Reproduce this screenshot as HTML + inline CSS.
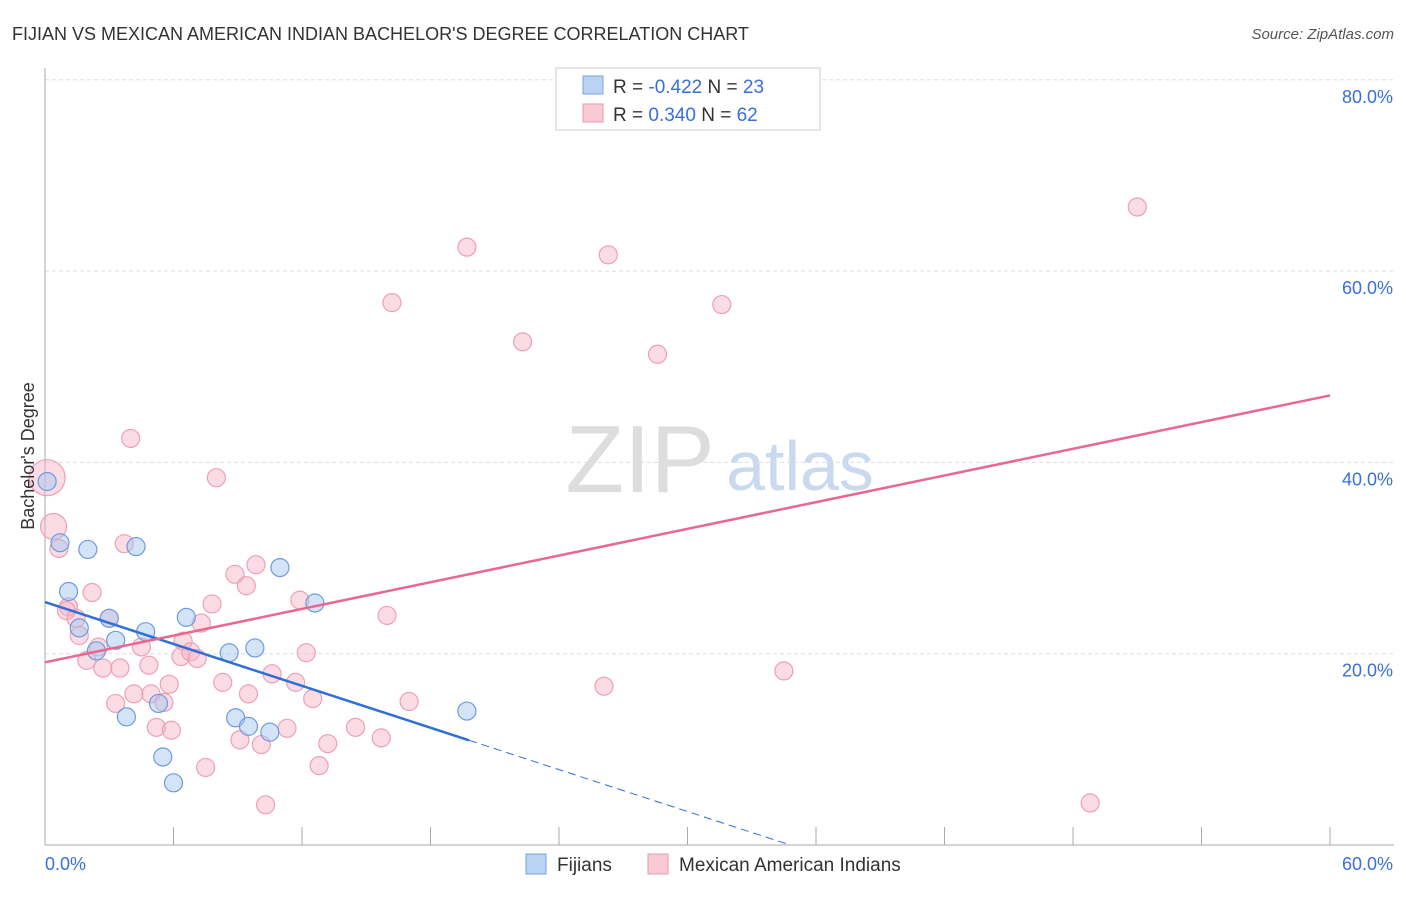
<!DOCTYPE html>
<html><head><meta charset="utf-8"><style>
body{margin:0;background:#fff;font-family:"Liberation Sans",sans-serif}
svg text{font-family:"Liberation Sans",sans-serif}
</style></head><body>
<svg id="chart" width="1406" height="892" viewBox="0 0 1406 892">
<text x="12" y="40" font-size="18" fill="#333">FIJIAN VS MEXICAN AMERICAN INDIAN BACHELOR'S DEGREE CORRELATION CHART</text>
<text x="1394" y="39" font-size="15" fill="#555" text-anchor="end" font-style="italic">Source: ZipAtlas.com</text>
<text x="640" y="492" font-size="96" fill="#ddd" font-family="Liberation Serif" text-anchor="middle">ZIP</text>
<text x="800" y="490" font-size="70" fill="#c9d9f0" text-anchor="middle">atlas</text>
<g id="grid"></g>
<g id="axes"></g>
<g id="marks"></g>
<text transform="translate(34,456) rotate(-90)" font-size="18" fill="#333" text-anchor="middle">Bachelor's Degree</text>
<g>
<rect x="556" y="68" width="264" height="62" fill="#fff" stroke="#ccc"/>
<rect x="583" y="76" width="20" height="18" fill="#b9d3f5" stroke="#7aa3e0"/>
<text x="613" y="93" font-size="19" fill="#333">R = <tspan fill="#3a6fd8">-0.422</tspan>   N = <tspan fill="#3a6fd8">23</tspan></text>
<rect x="583" y="104" width="20" height="18" fill="#f9c9d6" stroke="#e89ab0"/>
<text x="613" y="121" font-size="19" fill="#333">R =  <tspan fill="#3a6fd8">0.340</tspan>   N = <tspan fill="#3a6fd8">62</tspan></text>
</g>
<g>
<rect x="526" y="854" width="20" height="20" fill="#b9d3f5" stroke="#7aa3e0"/>
<text x="557" y="871" font-size="19" fill="#333">Fijians</text>
<rect x="648" y="854" width="20" height="20" fill="#f9c9d6" stroke="#e89ab0"/>
<text x="679" y="871" font-size="19" fill="#333">Mexican American Indians</text>
</g>
</svg>
<script>
const xTicks=[0,6,12,18,24,30,36,42,48,54,60];
const yTicks=[20,40,60,80];
const yTickLabels=["20.0%","40.0%","60.0%","80.0%"];
const fijX=[0.1,0.7,2.0,4.25,1.1,1.6,3.0,2.4,3.3,4.7,6.6,10.97,12.6,8.6,9.8,3.8,5.3,8.9,9.5,10.5,5.5,6.0,19.7];
const fijY=[38.0,31.6,30.9,31.2,26.5,22.7,23.7,20.3,21.4,22.3,23.8,29.0,25.3,20.1,20.6,13.4,14.8,13.3,12.4,11.8,9.2,6.5,14.0];
const mexX=[0.1,0.4,0.65,4.0,8.0,3.7,2.2,1.1,1.0,1.45,1.6,3.0,2.5,1.95,2.7,3.5,4.5,4.85,5.8,3.3,4.15,4.95,5.55,5.2,5.9,6.45,6.35,6.8,7.1,7.3,7.8,8.3,8.87,9.4,9.85,9.1,9.5,10.1,10.3,10.6,11.3,11.7,11.9,12.2,12.5,12.8,13.2,14.5,15.7,15.97,17.0,7.5,19.7,16.2,22.3,26.3,31.6,28.6,26.1,34.5,51.0,48.8];
const mexY=[38.4,33.3,31.0,42.5,38.4,31.5,26.4,24.9,24.5,23.7,21.9,23.7,20.7,19.3,18.5,18.5,20.7,18.8,16.8,14.8,15.8,15.8,14.9,12.3,12.0,21.3,19.7,20.2,19.5,23.2,25.2,17.0,28.3,27.1,29.3,11.0,15.8,10.5,4.2,17.9,12.2,17.0,25.6,20.1,15.3,8.3,10.6,12.3,11.2,24.0,15.0,8.1,62.5,56.7,52.6,61.7,56.5,51.3,16.6,18.2,66.7,4.4];
const fijTrend=[25.4,-0.73];
const mexTrend=[19.1,0.465];
const NS="http://www.w3.org/2000/svg";
const X=v=>45+v*21.417, Y=v=>845-v*9.5656;
function mk(tag,attrs,parent){const e=document.createElementNS(NS,tag);for(const k in attrs)e.setAttribute(k,attrs[k]);document.getElementById(parent).appendChild(e);return e;}
yTicks.forEach((t,i)=>{
 const g=mk('line',{x1:45,x2:1394,y1:Y(t),y2:Y(t),stroke:'#ddd','stroke-dasharray':'4,3'},'grid');
 
 
 const l=mk('text',{x:1393,y:Y(t)+23,'font-size':18,fill:'#3a6fd8','text-anchor':'end'},'axes');
 l.textContent=yTickLabels[i];
 
 
});
const ax=mk('line',{x1:45,x2:1394,y1:845,y2:845,stroke:'#aaa'},'axes');


const ay=mk('line',{x1:45,x2:45,y1:68,y2:845,stroke:'#aaa'},'axes');


xTicks.forEach(t=>{
 const tk=mk('line',{x1:X(t),x2:X(t),y1:827,y2:845,stroke:'#aaa'},'axes');
 
 
});
const x0=mk('text',{x:45,y:870,'font-size':18,fill:'#3a6fd8'},'axes');x0.textContent='0.0%';


const x1=mk('text',{x:1393,y:870,'font-size':18,fill:'#3a6fd8','text-anchor':'end'},'axes');x1.textContent='60.0%';


mexX.forEach((v,i)=>{
 const r=i==0?18:(i==1?13:9);
 const c=mk('circle',{cx:X(v),cy:Y(mexY[i]),r:r,fill:'rgba(246,178,198,0.45)',stroke:'#eda0b7','stroke-width':1.2},'marks');
 
 
});
fijX.forEach((v,i)=>{
 const c=mk('circle',{cx:X(v),cy:Y(fijY[i]),r:9,fill:'rgba(160,196,240,0.45)',stroke:'#6d9be0','stroke-width':1.2},'marks');
 
 
});
const fe=19.8, fz=-fijTrend[0]/fijTrend[1];
const t1=mk('line',{x1:X(0),y1:Y(fijTrend[0]),x2:X(fe),y2:Y(fijTrend[0]+fijTrend[1]*fe),stroke:'#2f6fd6','stroke-width':2.5},'marks');


const t2=mk('line',{x1:X(fe),y1:Y(fijTrend[0]+fijTrend[1]*fe),x2:X(fz),y2:Y(0),stroke:'#2f6fd6','stroke-width':1,'stroke-dasharray':'8,5'},'marks');


const t3=mk('line',{x1:X(0),y1:Y(mexTrend[0]),x2:X(60),y2:Y(mexTrend[0]+mexTrend[1]*60),stroke:'#e8688f','stroke-width':2.5},'marks');


</script>
</body></html>
